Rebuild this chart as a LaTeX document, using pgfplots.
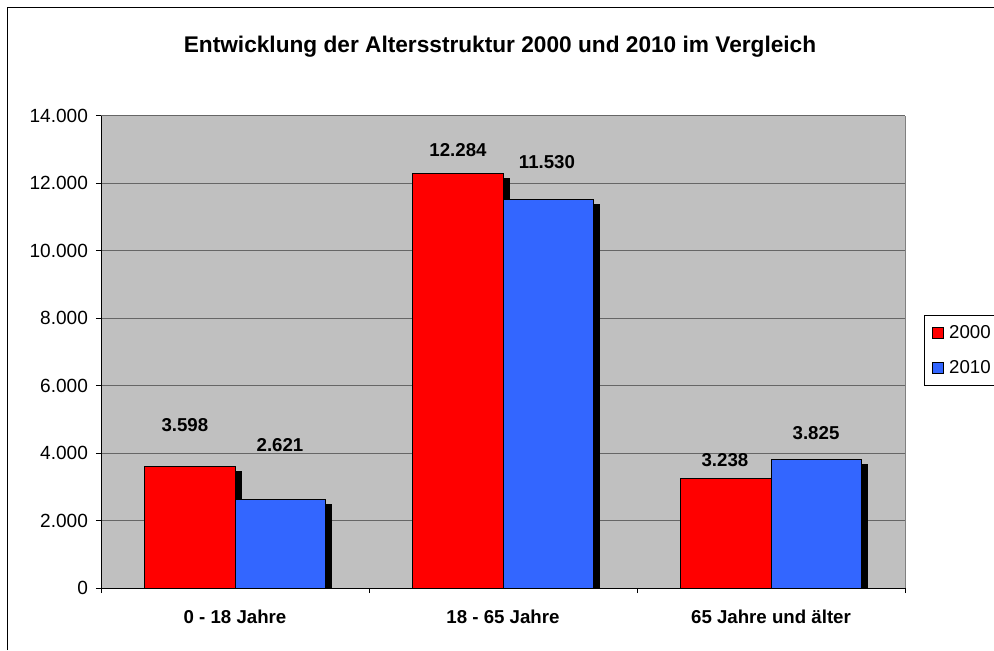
\documentclass[border=0pt]{standalone}
\usepackage{pgfplots}
\pgfplotsset{compat=1.18}
\usetikzlibrary{shadows}
\usepackage{fontspec}
\setmainfont{Liberation Sans}
\definecolor{bg}{HTML}{C0C0C0}
\definecolor{r2000}{HTML}{FF0000}
\definecolor{b2010}{HTML}{3366FF}
\begin{document}
\begin{tikzpicture}[x=0.75pt,y=0.75pt]
\path[use as bounding box] (0,0) rectangle (994,650);
\draw[black, line width=0.75pt] (7,0) -- (7,642) -- (994,642);
\node[font=\bfseries\fontsize{17}{20}\selectfont] at (500,603) {Entwicklung der Altersstruktur 2000 und 2010 im Vergleich};
\begin{axis}[
  at={(75.75pt,46.5pt)}, anchor=south west,
  scale only axis, width=603pt, height=354pt,
  xmin=-0.5, xmax=2.5, ymin=0, ymax=14000,
  axis lines*=left, axis line style={black, line width=0.75pt},
  axis background/.style={fill=bg},
  ytick={0,2000,...,14000}, scaled y ticks=false,
  ymajorgrids, grid style={black!60, line width=0.75pt},
  xtick={-0.5,0.5,1.5,2.5}, xticklabels={},
  extra x ticks={0,1,2},
  extra x tick labels={0 - 18 Jahre, 18 - 65 Jahre, 65 Jahre und älter},
  extra x tick style={major tick length=0pt, xticklabel style={font=\bfseries\fontsize{14}{16}\selectfont, yshift=-13pt}},
  tick align=outside, major tick length=3.75pt,
  tick style={black, line width=0.75pt},
  yticklabel style={font=\fontsize{14.3}{16}\selectfont, xshift=-2.5pt, /pgf/number format/fixed, /pgf/number format/1000 sep={.}},
  /pgf/number format/assume math mode=true,
  bar width=0.336,
  legend image code/.code={\draw[#1, line width=0.75pt] (0pt,-4.125pt) rectangle (8.25pt,4.125pt);},
  legend style={at={(1.0236,0.578)}, anchor=north west,
    draw=black, line width=0.75pt, fill=white,
    font=\fontsize{14}{16}\selectfont,
    inner xsep=5.5pt, inner ysep=5pt, row sep=11.5pt,
    /tikz/every odd column/.append style={column sep=2pt},
    legend cell align=left},
  after end axis/.code={\draw[black!50, line width=0.75pt] (rel axis cs:1,0) -- (rel axis cs:1,1);},
]
\addplot[ybar, bar shift=-0.168, fill=r2000, draw=black, line width=0.75pt,
  drop shadow={shadow xshift=4.5pt, shadow yshift=-3.75pt, fill=black, opacity=1}, forget plot]
  coordinates {(0,3598) (1,12284) (2,3238)};
\addplot[ybar, bar shift=0.168, fill=b2010, draw=black, line width=0.75pt,
  drop shadow={shadow xshift=4.5pt, shadow yshift=-3.75pt, fill=black, opacity=1}, forget plot]
  coordinates {(0,2621) (1,11530) (2,3825)};
\addplot[draw=none, nodes near coords, point meta=explicit symbolic,
  nodes near coords style={font=\bfseries\fontsize{14}{16}\selectfont, anchor=center, text=black},
  forget plot]
  coordinates {(-0.187,4835)[3.598] (0.168,4242)[2.621] (0.832,12993)[12.284] (1.164,12646)[11.530] (1.828,3797)[3.238] (2.168,4598)[3.825]};
\addlegendimage{fill=r2000, draw=black}
\addlegendentry{2000}
\addlegendimage{fill=b2010, draw=black}
\addlegendentry{2010}
\end{axis}
\end{tikzpicture}
\end{document}
